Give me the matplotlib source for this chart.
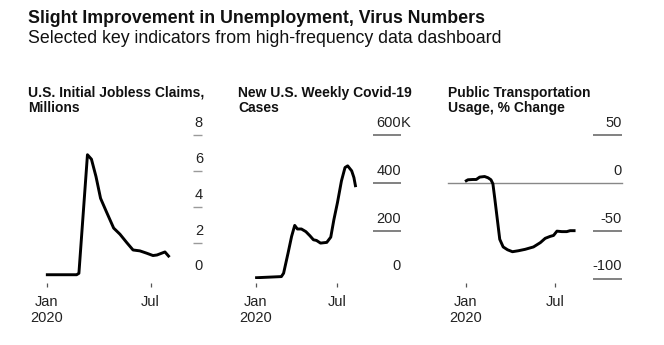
import matplotlib
matplotlib.use('Agg')
import matplotlib.pyplot as plt
import matplotlib.dates as mdates
import pandas as pd

plt.rcParams['font.family'] = ['Liberation Sans', 'DejaVu Sans']

# --- data ---
claims_dates = ['2019-12-30', '2020-02-22', '2020-02-26', '2020-03-12', '2020-03-19',
                '2020-03-27', '2020-04-04', '2020-04-14', '2020-04-27', '2020-05-08',
                '2020-05-20', '2020-05-31', '2020-06-12', '2020-06-24', '2020-07-05',
                '2020-07-12', '2020-07-26', '2020-08-03']
claims = [0.21, 0.21, 0.29, 6.9, 6.65, 5.68, 4.47, 3.74, 2.81, 2.47,
          2.0, 1.59, 1.54, 1.41, 1.28, 1.31, 1.48, 1.19]

cases_dates = ['2019-12-30', '2020-02-27', '2020-03-03', '2020-03-13', '2020-03-21',
               '2020-03-28', '2020-04-03', '2020-04-12', '2020-04-22', '2020-05-01',
               '2020-05-09', '2020-05-16', '2020-05-25', '2020-06-08', '2020-06-17',
               '2020-06-24', '2020-07-02', '2020-07-11', '2020-07-19', '2020-07-25',
               '2020-08-03', '2020-08-08', '2020-08-12']
cases = [3, 8, 22, 106, 176, 222, 207, 207, 196, 179, 162, 159, 148, 151, 173,
         246, 317, 408, 464, 471, 450, 422, 382]  # thousands

transit_dates = ['2019-12-30', '2020-01-05', '2020-01-15', '2020-01-22', '2020-01-29',
                 '2020-02-08', '2020-02-15', '2020-02-21', '2020-02-25', '2020-02-29',
                 '2020-03-05', '2020-03-10', '2020-03-17', '2020-03-26', '2020-04-05',
                 '2020-04-17', '2020-05-01', '2020-05-18', '2020-06-01', '2020-06-11',
                 '2020-06-21', '2020-06-28', '2020-07-05', '2020-07-15', '2020-07-25',
                 '2020-08-01', '2020-08-12']
transit = [1.4, 3.2, 3.5, 3.5, 6, 6.6, 5.3, 3.2, -1, -17, -38, -59, -67, -70, -72,
           -71, -69.5, -67, -62.5, -58, -56, -55, -50.5, -51, -51, -50, -50]

titles = [('U.S. Initial Jobless Claims,', 'Millions'),
          ('New U.S. Weekly Covid-19', 'Cases'),
          ('Public Transportation', 'Usage, % Change')]
ylims = [(0, 8), (0, 600), (-100, 50)]
ytick_vals = [[8, 6, 4, 2, 0], [600, 400, 200, 0], [50, 0, -50, -100]]
ytick_txt = [['8', '6', '4', '2', '0'], ['600', '400', '200', '0'], ['50', '0', '-50', '-100']]
xtick_txt = ['Jan\n2020', 'Jul']

W, H = 664, 345
fig = plt.figure(figsize=(W / 100, H / 100), dpi=100)


def box(x0, y0, x1, y1):
    return [x0 / W, 1 - y1 / H, (x1 - x0) / W, (y1 - y0) / H]


# layout in pixels: axes box, jan/jul tick px, stub span, label right edge, title x
panels = [
    dict(ax=(40, 135, 210, 278.5), jan=47, jul=150.7, stub=(193, 202), lab=203, tx=28,
         stub_c='#9a9a9a', stub_w=1.0),
    dict(ax=(245, 135, 415, 278.5), jan=256, jul=337, stub=(373, 401), lab=401, tx=238,
         stub_c='#777777', stub_w=1.3),
    dict(ax=(440, 135, 630, 278.5), jan=466, jul=555, stub=(593, 622), lab=622, tx=448,
         stub_c='#777777', stub_w=1.3),
]
series = [(claims_dates, claims), (cases_dates, cases), (transit_dates, transit)]

jan = mdates.date2num(pd.Timestamp('2020-01-01'))
jul = mdates.date2num(pd.Timestamp('2020-07-01'))

for i, p in enumerate(panels):
    x0, y0, x1, y1 = p['ax']
    ax = fig.add_axes(box(x0, y0, x1, y1))
    s = (p['jul'] - p['jan']) / (jul - jan)  # px per day

    def px2d(px):
        return jan + (px - p['jan']) / s

    ax.set_xlim(px2d(x0), px2d(x1))
    ax.set_ylim(*ylims[i])

    d, v = series[i]
    ax.plot(mdates.date2num(pd.to_datetime(d)), v, color='black', lw=2.1,
            solid_joinstyle='round', solid_capstyle='butt', zorder=3)

    # right-side value labels with short grid stubs (none at the zero line)
    for val, txt in zip(ytick_vals[i], ytick_txt[i]):
        if val != 0:
            ax.plot([px2d(p['stub'][0]), px2d(p['stub'][1])], [val, val],
                    color=p['stub_c'], lw=p['stub_w'], clip_on=False, solid_capstyle='butt')
        ax.annotate(txt, xy=(px2d(p['lab']), val), xytext=(0, 8),
                    textcoords='offset pixels', ha='right', va='baseline',
                    fontsize=10.5, color='#222222', annotation_clip=False)
        if i == 1 and val == 600:
            ax.annotate('K', xy=(px2d(p['lab']), val), xytext=(0, 8),
                        textcoords='offset pixels', ha='left', va='baseline',
                        fontsize=10.5, color='#222222', annotation_clip=False)
    if i == 2:
        ax.plot([px2d(448), px2d(622)], [0, 0], color='#888888', lw=1.0, zorder=2)

    for sp in ax.spines.values():
        sp.set_visible(False)
    ax.spines['bottom'].set_position(('outward', 3))
    ax.set_xticks([jan, jul])
    ax.set_xticklabels(xtick_txt, fontsize=10.5, color='#222222', linespacing=1.15)
    ax.tick_params(axis='x', length=3, width=0.9, color='#555555', pad=6)
    ax.set_yticks([])
    ax.patch.set_visible(False)

    for line, yb in zip(titles[i], (96.5, 111.5)):
        fig.text(p['tx'] / W, 1 - yb / H, line, fontsize=10, fontweight='bold',
                 va='baseline', ha='left', color='#111111')

fig.text(28 / W, 1 - 23.3 / H, 'Slight Improvement in Unemployment, Virus Numbers',
         fontsize=12.8, fontweight='bold', va='baseline', color='#111111')
fig.text(28 / W, 1 - 43.3 / H, 'Selected key indicators from high-frequency data dashboard',
         fontsize=12.8, va='baseline', color='#111111')

fig.savefig('out.png', dpi=100)
